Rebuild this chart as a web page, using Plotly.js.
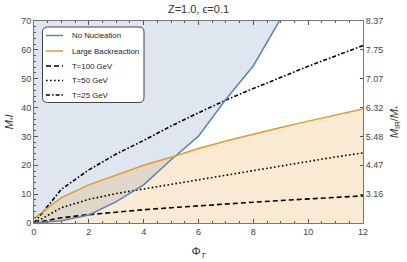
<!DOCTYPE html>
<html>
<head>
<meta charset="utf-8">
<script src="https://cdn.plot.ly/plotly-3.0.1.min.js"></script>
<style>html,body{margin:0;padding:0;background:#fff;}#chart{width:407px;height:262px;}</style>
</head>
<body>
<div id="chart"></div>
<script>
// ---- data ----
const phiT = [0,1,2,3,4,5,6,7,8,9,10,11,12];
const noNucX = [0,1,2,3,4,5,6,7,8,9];
const noNucY = [0,0.8,2.8,7.4,13.2,21.9,30.1,42.9,54.5,70.8];
const largeBackY = [1.6,8.8,13.2,16.7,20.0,22.8,25.8,28.4,30.8,33.1,35.3,37.4,39.5];
const t100Y = [0,1.8,2.9,3.8,4.6,5.3,6.0,6.6,7.2,7.8,8.4,8.9,9.4];
const t50Y  = [0,5.3,8.2,10.2,11.8,13.4,15.0,16.7,18.3,19.9,21.4,22.9,24.3];
const t25Y  = [0,11.7,18.4,23.9,28.6,33.6,38.2,42.6,46.6,50.5,54.3,57.9,61.5];
const rightTickVals = [10,20,30,40,50,60,70];
const rightTickText = ['3.16','4.47','5.48','6.32','7.07','7.75','8.37'];
const legendNames = ['No Nucleation','Large Backreaction','T=100 GeV','T=50 GeV','T=25 GeV'];

const yMax = 70;
const blue = '#5e81b5', orange = '#e19c24';

const traces = [
  {x: noNucX.concat([noNucX[noNucX.length-1], 0]), y: noNucY.concat([yMax+5, yMax+5]),
   mode:'lines', fill:'toself', fillcolor:'rgba(94,129,181,0.2)', line:{width:0}, hoverinfo:'skip', showlegend:false},
  {x: phiT, y: largeBackY, mode:'lines', fill:'tozeroy', fillcolor:'rgba(225,156,36,0.2)', line:{width:0}, showlegend:false},
  {x: phiT, y: t100Y, mode:'lines', line:{color:'#000', width:1.6, dash:'5px,3px'}, showlegend:false},
  {x: phiT, y: t50Y, mode:'lines', line:{color:'#000', width:1.6, dash:'1.6px,2.4px'}, showlegend:false},
  {x: phiT, y: t25Y, mode:'lines', line:{color:'#000', width:1.6, dash:'4px,2px,1.6px,2px'}, showlegend:false},
  {x: noNucX, y: noNucY, mode:'lines', line:{color:blue, width:1.5}, showlegend:false},
  {x: phiT, y: largeBackY, mode:'lines', line:{color:orange, width:1.5}, showlegend:false},
  {x: [0], y: [0], yaxis:'y2', mode:'markers', marker:{opacity:0}, hoverinfo:'skip', showlegend:false}
];

const L=34, R=363, T=21, B=223;
const px = v => (v-L)/(R-L);
const py = v => (B-v)/(B-T);

const shapes = [];
const annotations = [];
(function(){
  const x0=42.5,x1=144,y0=27,y1=102.5,r=5;
  const p = [
    `M ${px(x0+r)},${py(y0)}`,
    `L ${px(x1-r)},${py(y0)}`,
    `Q ${px(x1)},${py(y0)} ${px(x1)},${py(y0+r)}`,
    `L ${px(x1)},${py(y1-r)}`,
    `Q ${px(x1)},${py(y1)} ${px(x1-r)},${py(y1)}`,
    `L ${px(x0+r)},${py(y1)}`,
    `Q ${px(x0)},${py(y1)} ${px(x0)},${py(y1-r)}`,
    `L ${px(x0)},${py(y0+r)}`,
    `Q ${px(x0)},${py(y0)} ${px(x0+r)},${py(y0)} Z`
  ].join(' ');
  shapes.push({type:'path', xref:'paper', yref:'paper', path:p, fillcolor:'#fff', line:{color:'#444', width:1}, layer:'above'});
})();
const legendStyles = [
  {color:blue, width:1.5, dash:'solid'},
  {color:orange, width:1.5, dash:'solid'},
  {color:'#000', width:1.6, dash:'5px,3px'},
  {color:'#000', width:1.6, dash:'1.6px,2.4px'},
  {color:'#000', width:1.6, dash:'4px,2px,1.6px,2px'}
];
const rowsY = [35.5, 51, 66, 80.5, 95];
legendNames.forEach((n,i)=>{
  shapes.push({type:'line', xref:'paper', yref:'paper', x0:px(46), x1:px(63), y0:py(rowsY[i]), y1:py(rowsY[i]), line:legendStyles[i], layer:'above'});
  annotations.push({xref:'paper', yref:'paper', x:px(70), y:py(rowsY[i]), xanchor:'left', yanchor:'middle', text:n, showarrow:false,
    font:{family:'Liberation Sans, Arial, sans-serif', size:7.8, color:'#222'}});
});

const tickFont = {family:'Liberation Sans, Arial, sans-serif', size:9, color:'#444'};
const layout = {
  width:407, height:262,
  margin:{l:L, r:407-R, t:T, b:262-B, pad:0},
  paper_bgcolor:'#fff', plot_bgcolor:'#fff',
  title:{text:'Z=1.0, ϵ=0.1', x:0.5, xref:'paper', xanchor:'center', y:1-9/262, yref:'container', yanchor:'middle',
    font:{family:'Liberation Sans, Arial, sans-serif', size:11, color:'#333'}},
  xaxis:{range:[0,12], dtick:2, tick0:0, ticks:'inside', ticklen:4, tickcolor:'#555', showline:true, linecolor:'#777', linewidth:1,
    mirror:'ticks', showgrid:false, zeroline:false, tickfont:tickFont,
    minor:{dtick:0.5, ticks:'inside', ticklen:2, tickcolor:'#555', showgrid:false},
    title:{text:'Φ<sub><i>T</i></sub>', standoff:11, font:{family:'Liberation Sans, Arial, sans-serif', size:11.5, color:'#333'}}},
  yaxis:{range:[0,yMax], dtick:10, tick0:0, ticks:'inside', ticklen:4, tickcolor:'#555', showline:true, linecolor:'#777', linewidth:1,
    showgrid:false, zeroline:false, tickfont:tickFont,
    minor:{dtick:2, ticks:'inside', ticklen:2, tickcolor:'#555', showgrid:false},
    title:{text:'<i>M</i><sub>*</sub><i>l</i>', standoff:5, font:{family:'Liberation Sans, Arial, sans-serif', size:11, color:'#333'}}},
  yaxis2:{overlaying:'y', side:'right', range:[0,yMax], tickmode:'array', tickvals:rightTickVals, ticktext:rightTickText,
    ticks:'inside', ticklen:3, tickcolor:'#555', showline:true, linecolor:'#777', linewidth:1, showgrid:false, zeroline:false,
    tickfont:tickFont,
    title:{text:'<i>M</i><sub>IR</sub>/<i>M</i><sub>*</sub>', standoff:7, font:{family:'Liberation Sans, Arial, sans-serif', size:11, color:'#333'}}},
  shapes:shapes,
  annotations:annotations,
  showlegend:false
};
Plotly.newPlot('chart', traces, layout, {staticPlot:true, displayModeBar:false});
</script>
</body>
</html>
